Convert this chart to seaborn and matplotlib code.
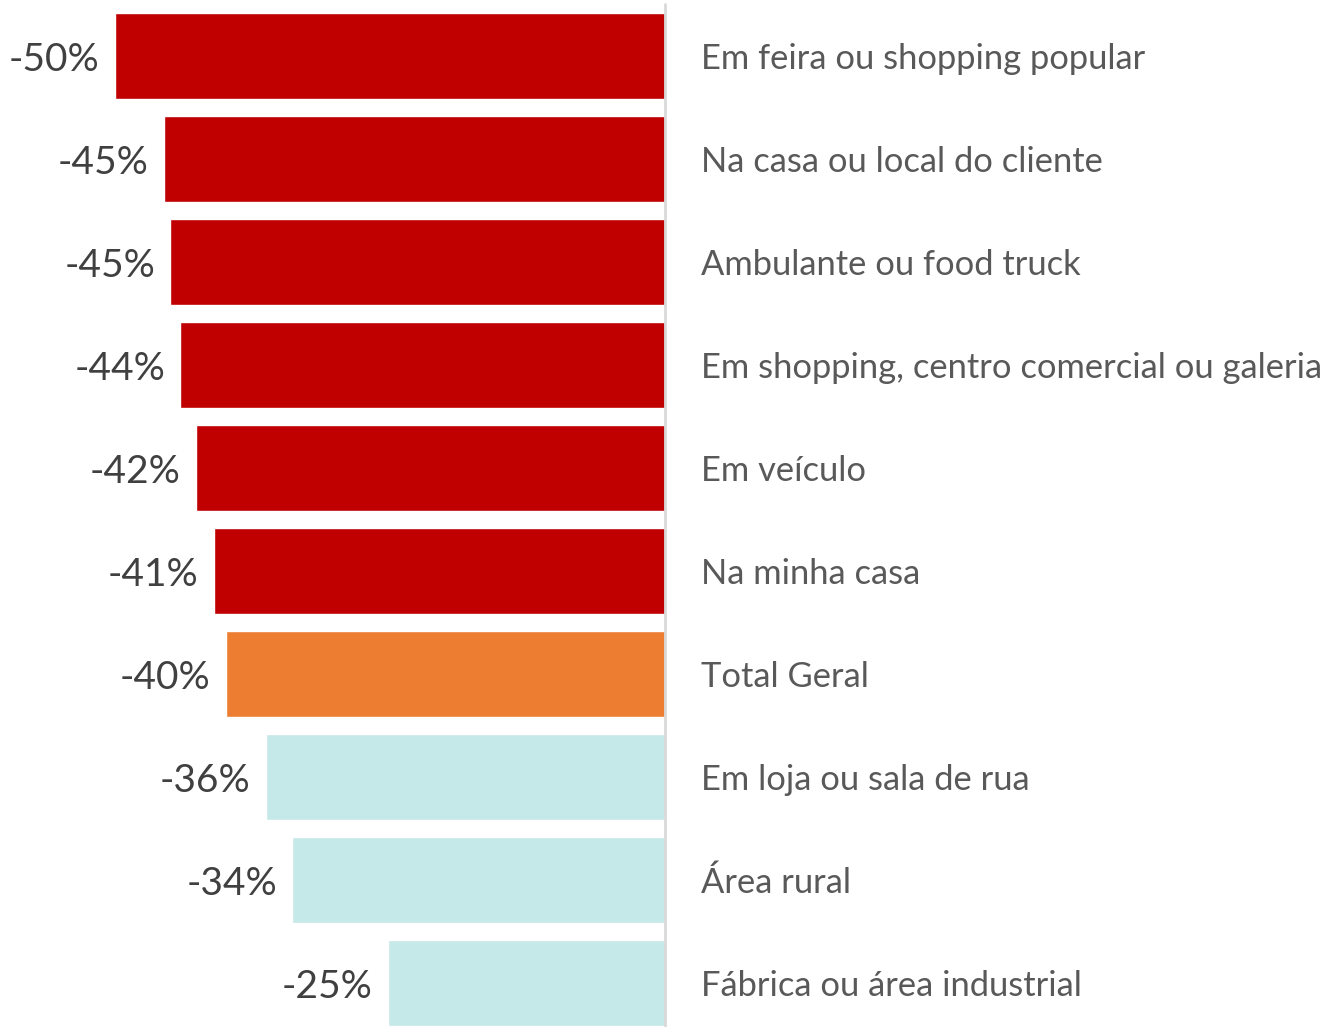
import matplotlib
matplotlib.use("Agg")
import matplotlib.pyplot as plt
import seaborn as sns
import pandas as pd

# Values (variation in %)
categories = [
    "Em feira ou shopping popular",
    "Na casa ou local do cliente",
    "Ambulante ou food truck",
    "Em shopping, centro comercial ou galeria",
    "Em veículo",
    "Na minha casa",
    "Total Geral",
    "Em loja ou sala de rua",
    "Área rural",
    "Fábrica ou área industrial",
]
values = [-49.6, -45.2, -44.6, -43.7, -42.3, -40.7, -39.6, -36.0, -33.6, -25.0]
groups = ["acima", "acima", "acima", "acima", "acima", "acima",
          "total", "abaixo", "abaixo", "abaixo"]

palette = {"acima": "#C00000", "total": "#ED7D31", "abaixo": "#C5E8E8"}

df = pd.DataFrame({"categoria": categories, "variacao": values, "grupo": groups})

sns.set_theme(style="white")
plt.rcParams["font.family"] = ["Lato", "DejaVu Sans"]

fig = plt.figure(figsize=(13.32, 10.27), dpi=100)
ax = fig.add_axes([0, 0, 1, 1])

sns.barplot(data=df, x="variacao", y="categoria", hue="grupo", palette=palette,
            orient="h", width=0.835, dodge=False, legend=False, ax=ax,
            saturation=1)

ax.set_xlim(-59.96, 60.14)
ax.set_ylim(9.427, -0.544)
ax.axvline(0, color="#D9D9D9", linewidth=2, ymax=0.996)

for i, (cat, val) in enumerate(zip(categories, values)):
    ax.annotate(f"{val:.0f}%", xy=(val, i), xytext=(-11, 0),
                textcoords="offset points", ha="right", va="center_baseline",
                fontsize=28, color="#404040")
    ax.annotate(cat, xy=(0, i), xytext=(26, 0),
                textcoords="offset points", ha="left", va="center_baseline",
                fontsize=24.8, color="#595959")

ax.set_axis_off()
fig.savefig("out.png", dpi=100)
